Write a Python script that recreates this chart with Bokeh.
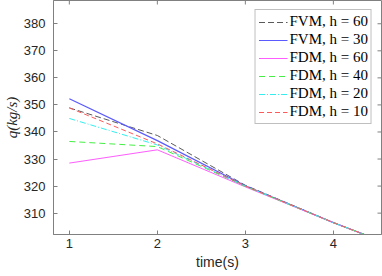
from bokeh.plotting import figure
from bokeh.models import Range1d, Legend, LegendItem, FixedTicker
from bokeh.embed import file_html
from bokeh.resources import INLINE

t = [1, 2, 3, 4, 5]
fvm_h60 = [348.9, 338.7, 320.3, 306.5, 294.0]
fvm_h30 = [352.3, 336.8, 320.1, 306.5, 294.0]
fdm_h60 = [328.5, 333.4, 319.7, 306.5, 294.0]
fdm_h40 = [336.5, 334.6, 319.9, 306.5, 294.0]
fdm_h20 = [345.0, 335.2, 320.0, 306.5, 294.0]
fdm_h10 = [348.9, 335.6, 320.0, 306.5, 294.0]

x_ticks = [1, 2, 3, 4]
y_ticks = [310, 320, 330, 340, 350, 360, 370, 380]

X0, X1 = 0.82, 4.547
Y0, Y1 = 302.1, 388.6
FW, FH = 328, 234

p = figure(frame_width=FW, frame_height=FH, output_backend="svg", toolbar_location=None,
           x_range=Range1d(X0, X1), y_range=Range1d(Y0, Y1),
           min_border_left=45, min_border_right=1, min_border_top=0, min_border_bottom=30)
p.xgrid.visible = False
p.ygrid.visible = False
p.outline_line_color = "#808080"
p.background_fill_color = "white"
p.border_fill_color = "white"

# inward ticks (4 px) on the top and right edges of the box
dy = 4 * (Y1 - Y0) / FH
dx = 4 * (X1 - X0) / FW
p.segment(x0=x_ticks, y0=[Y1] * len(x_ticks), x1=x_ticks, y1=[Y1 - dy] * len(x_ticks),
          line_color="#808080", line_width=1)
p.segment(x0=[X1] * len(y_ticks), y0=y_ticks, x1=[X1 - dx] * len(y_ticks), y1=y_ticks,
          line_color="#808080", line_width=1)

series = [
    ("FVM, h = 60", fvm_h60, "#5a5a5a", "6 3", 1.0),
    ("FVM, h = 30", fvm_h30, "#5a5aff", "solid", 1.2),
    ("FDM, h = 60", fdm_h60, "#ff5cff", "solid", 1.0),
    ("FDM, h = 40", fdm_h40, "#44ee44", "6 4", 1.0),
    ("FDM, h = 20", fdm_h20, "#33eeee", "6 2 1 2", 1.0),
    ("FDM, h = 10", fdm_h10, "#ff5a5a", "5 3", 1.0),
]
items = []
for label, ys, col, dash, lw in series:
    r = p.line(t, ys, line_color=col, line_dash=dash, line_width=lw)
    items.append(LegendItem(label=label, renderers=[r]))

for ax in (p.xaxis[0], p.yaxis[0]):
    ax.axis_line_color = "#808080"
    ax.major_tick_line_color = "#808080"
    ax.minor_tick_line_color = None
    ax.major_tick_in = 4
    ax.major_tick_out = 0
    ax.major_label_text_font = "Liberation Sans"
    ax.major_label_text_font_size = "13px"
    ax.major_label_text_color = "#262626"
    ax.axis_label_text_color = "#262626"

p.xaxis.ticker = FixedTicker(ticks=x_ticks)
p.yaxis.ticker = FixedTicker(ticks=y_ticks)
p.xaxis.major_label_standoff = 4
p.yaxis.major_label_standoff = 8
p.xaxis.axis_label = "time(s)"
p.xaxis.axis_label_text_font = "Liberation Sans"
p.xaxis.axis_label_text_font_style = "normal"
p.xaxis.axis_label_text_font_size = "14px"
p.xaxis.axis_label_standoff = 3
p.yaxis.axis_label = "q(kg/s)"
p.yaxis.axis_label_text_font = "Liberation Serif"
p.yaxis.axis_label_text_font_style = "italic"
p.yaxis.axis_label_text_font_size = "15px"
p.yaxis.axis_label_standoff = 1

legend = Legend(items=items, location="top_right")
legend.label_text_font = "Liberation Serif"
legend.label_text_font_size = "15px"
legend.label_text_color = "#000000"
legend.glyph_width = 29
legend.glyph_height = 16
legend.label_height = 16
legend.label_standoff = 2
legend.spacing = 1
legend.padding = 3
legend.margin = 9
legend.border_line_color = "#808080"
legend.border_line_width = 1
legend.background_fill_color = "white"
legend.background_fill_alpha = 1.0
p.add_layout(legend, "center")

open("out.html", "w").write(file_html(p, INLINE))
